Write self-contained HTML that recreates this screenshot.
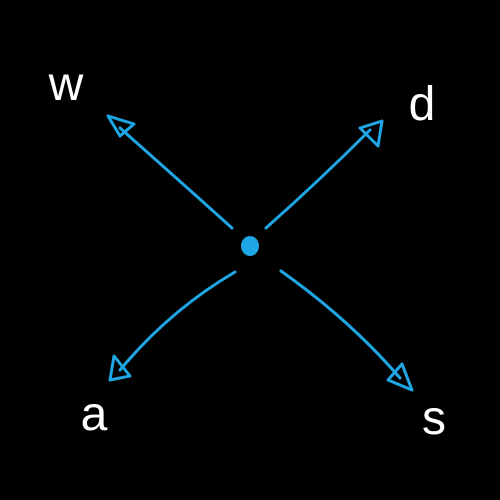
<!DOCTYPE html>
<html><head><meta charset="utf-8"><style>
html,body{margin:0;padding:0;background:#000;width:500px;height:500px;overflow:hidden}
</style></head><body>
<svg width="500" height="500" viewBox="0 0 500 500">
<rect width="500" height="500" fill="#000"/>
<g stroke="#1ea7e4" stroke-width="3" fill="none" stroke-linecap="round" stroke-linejoin="round">
  <g>
    <path d="M232 228 Q190 190 120 128"/>
    <path d="M108 116 L134 124 L120 136 Z"/>
  </g>
  <g>
    <path d="M266 228 Q320 180 370 130"/>
    <path d="M382 121 L378 146 L360 128 Z"/>
  </g>
  <g>
    <path d="M235 272 Q170 310 120 370"/>
    <path d="M110 380 L114 356 L130 376 Z"/>
  </g>
  <g>
    <path d="M281 271 Q350 320 400 378"/>
    <path d="M412 390 L388 380 L402 364 Z"/>
  </g>
</g>
<ellipse cx="250" cy="246" rx="9" ry="10" fill="#1ea7e4"/>
<g fill="#fff" font-family="Liberation Sans, sans-serif" font-size="48" text-anchor="middle">
  <text x="66" y="100">w</text>
  <text x="422" y="120">d</text>
  <text x="94" y="430">a</text>
  <text x="434" y="434">s</text>
</g>
</svg>
</body></html>
